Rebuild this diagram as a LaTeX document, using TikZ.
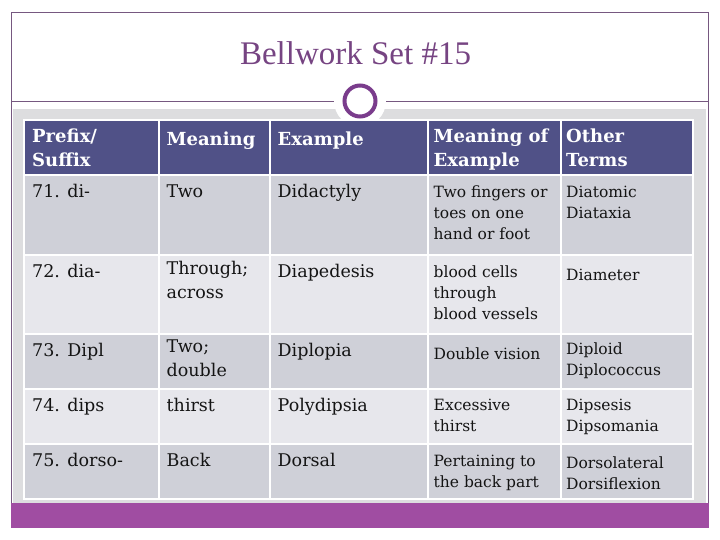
\documentclass[tikz,border=0pt]{standalone}
\usepackage{fontspec}
\setmainfont{DejaVu Serif}
\newfontfamily\titlefont{Liberation Serif}
\usepackage{tikz}

\definecolor{framecol}{RGB}{118,88,128}
\definecolor{titlecol}{RGB}{118,68,130}
\definecolor{ringcol}{RGB}{122,60,140}
\definecolor{bandcol}{RGB}{221,221,223}
\definecolor{headcol}{RGB}{80,81,135}
\definecolor{rowdark}{RGB}{207,208,216}
\definecolor{rowlight}{RGB}{231,231,236}
\definecolor{barcol}{RGB}{160,77,162}
\definecolor{txtcol}{RGB}{20,20,20}

\begin{document}
\begin{tikzpicture}[x=1pt, y=-1pt,
    hcell/.style={anchor=north west, inner sep=0pt, align=left, text=white,
      font=\bfseries\fontsize{18}{24}\selectfont, execute at begin node=\strut},
    bcell/.style={anchor=north west, inner sep=0pt, align=left, text=txtcol,
      font=\fontsize{17.5}{24}\selectfont, execute at begin node=\strut},
    scell/.style={anchor=north west, inner sep=0pt, align=left, text=txtcol,
      font=\fontsize{15.5}{21}\selectfont, execute at begin node=\strut}]

      \useasboundingbox (0,0) rectangle (720,540);

      %slide frame
      \draw [framecol] (11.5,12.5) rectangle (708,527);
      \fill [bandcol] (13,109) rectangle (706,503);
      \fill [barcol] (11,503) rectangle (708.5,527.5);

      %title
      \node [anchor=base, text=titlecol, font=\titlefont\fontsize{33}{38}\selectfont]
            (title) at (355.5,64.5) {Bellwork Set \#15};
      \draw [framecol] (12,101) -- (708,101);
      \fill [white] (360,101) circle (26);

      %table cells
      \foreach \top/\bot/\col in {120/175/headcol, 175/255/rowdark, 255/334/rowlight,
                                  334/389/rowdark, 389/444/rowlight, 444/499/rowdark} {
        \foreach \lft/\rgt in {24/159, 159/270, 270/428, 428/561, 561/693} {
          \draw [white, line width=2pt, fill=\col] (\lft,\top) rectangle (\rgt,\bot);
        }
      }

      %ring
      \draw [ringcol, line width=4pt, fill=white] (360,101) circle (15.5);

      %header
      \node [hcell] (hpre)   at (32,128.7)    {Prefix/\\Suffix};
      \node [hcell] (hmean)  at (166.5,128.7) {Meaning};
      \node [hcell] (hex)    at (277.5,128.7) {Example};
      \node [hcell] (hmex)   at (433.5,128.7) {Meaning of\\Example};
      \node [hcell] (hother) at (566,128.7)   {Other\\Terms};

      %71
      \node [bcell] (p71) at (32,180.7)    {71. di-};
      \node [bcell] (m71) at (166.5,180.7) {Two};
      \node [bcell] (e71) at (277.5,180.7) {Didactyly};
      \node [scell] (d71) at (433.5,185.5) {Two fingers or\\toes on one\\hand or foot};
      \node [scell] (o71) at (566,185.5)   {Diatomic\\Diataxia};
      %72
      \node [bcell] (p72) at (32,260.7)    {72. dia-};
      \node [bcell] (m72) at (166.5,260.7) {Through;\\across};
      \node [bcell] (e72) at (277.5,260.7) {Diapedesis};
      \node [scell] (d72) at (433.5,265.5) {blood cells\\through\\blood vessels};
      \node [scell] (o72) at (566,265.5)   {Diameter};
      %73
      \node [bcell] (p73) at (32,339.7)    {73. Dipl};
      \node [bcell] (m73) at (166.5,339.7) {Two;\\double};
      \node [bcell] (e73) at (277.5,339.7) {Diplopia};
      \node [scell] (d73) at (433.5,344.5) {Double vision};
      \node [scell] (o73) at (566,342.5)   {Diploid\\Diplococcus};
      %74
      \node [bcell] (p74) at (32,394.7)    {74. dips};
      \node [bcell] (m74) at (166.5,394.7) {thirst};
      \node [bcell] (e74) at (277.5,394.7) {Polydipsia};
      \node [scell] (d74) at (433.5,398.5) {Excessive\\thirst};
      \node [scell] (o74) at (566,398.5)   {Dipsesis\\Dipsomania};
      %75
      \node [bcell] (p75) at (32,449.7)    {75. dorso-};
      \node [bcell] (m75) at (166.5,449.7) {Back};
      \node [bcell] (e75) at (277.5,449.7) {Dorsal};
      \node [scell] (d75) at (433.5,454.5) {Pertaining to\\the back part};
      \node [scell] (o75) at (566,456.5)   {Dorsolateral\\Dorsiflexion};
    \end{tikzpicture}
\end{document}
